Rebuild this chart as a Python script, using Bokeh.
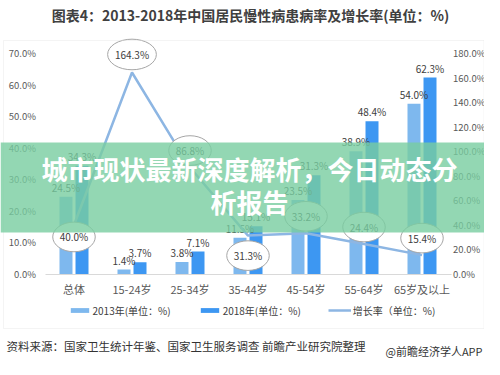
from bokeh.plotting import figure
from bokeh.models import (Range1d, LinearAxis, FixedTicker, PrintfTickFormatter,
                          ColumnDataSource, Label, BoxAnnotation, Legend, LegendItem)
from bokeh.transform import dodge
from bokeh.core.properties import value
from bokeh.embed import file_html
from bokeh.resources import INLINE

# ---------------- data ----------------
categories = ["总体", "15-24岁", "25-34岁", "35-44岁", "45-54岁", "55-64岁", "65岁及以上"]
rate_2013 = [24.5, 1.4, 3.8, 11.5, 23.5, 38.9, 54.0]
rate_2018 = [34.3, 3.7, 7.1, 15.1, 31.3, 48.4, 62.3]
growth = [40.0, 164.3, 86.8, 31.3, 33.2, 24.4, 15.4]
left_ticks = [0, 10, 20, 30, 40, 50, 60, 70]
right_ticks = [0, 20, 40, 60, 80, 100, 120, 140, 160, 180]
legend_labels = ["2013年(单位：%)", "2018年(单位：%)", "增长率（单位：%)"]
title_text = "图表4：2013-2018年中国居民慢性病患病率及增长率(单位：%)"
source_text = "资料来源：国家卫生统计年鉴、国家卫生服务调查 前瞻产业研究院整理"
credit_text = "@前瞻经济学人APP"
banner_lines = ["城市现状最新深度解析，今日动态分", "析报告"]

# ---------------- style ----------------
FONT = "Noto Sans CJK SC"
C13, C18, CLINE = "#7EB8EE", "#3D97F2", "#8DB6E3"
GROWTH_DY = [12, -18, -17, 20, -17, -17, -17]   # label offsets (px)

W, H = 484, 359
PX_PER_CAT = 58.0
FIRST_CAT_X = 73.5          # pixel column of the first category centre
PX_PER_PCT = 3.154          # left axis pixels per percent
ZERO_Y = 273.5              # pixel row of the 0 line
RIGHT_SCALE = 180.0 / 70.0  # right axis units per left axis unit

x_lo = -FIRST_CAT_X / PX_PER_CAT
x_hi = (W - FIRST_CAT_X) / PX_PER_CAT
y_lo = -(H - ZERO_Y) / PX_PER_PCT
y_hi = ZERO_Y / PX_PER_PCT
n = len(categories)
idx = list(range(n))


def sx(fx):
    return fx


def sy(fy):
    return H - fy


src = ColumnDataSource(dict(
    i=idx, r13=rate_2013, r18=rate_2018, g=growth,
    l13=[f"{v:.1f}%" for v in rate_2013],
    l18=[f"{v:.1f}%" for v in rate_2018],
    lg=[f"{v:.1f}%" for v in growth],
    gdy=GROWTH_DY,
))

p = figure(width=W, height=H, x_range=Range1d(x_lo, x_hi), y_range=Range1d(y_lo, y_hi),
           x_axis_type=None, y_axis_type=None,
           output_backend="svg", toolbar_location=None,
           min_border=0, min_border_left=0, min_border_right=0, min_border_top=0,
           min_border_bottom=0)
p.extra_y_ranges = {"right": Range1d(y_lo * RIGHT_SCALE, y_hi * RIGHT_SCALE)}
p.xgrid.visible = False
p.ygrid.visible = False
p.outline_line_color = None
p.background_fill_color = "white"
p.border_fill_color = "white"


def style_axis(ax, size, standoff):
    ax.axis_line_color = None
    ax.major_tick_line_color = None
    ax.minor_tick_line_color = None
    ax.major_tick_out = 0
    ax.major_tick_in = 0
    ax.minor_tick_out = 0
    ax.minor_tick_in = 0
    ax.major_label_text_font = FONT
    ax.major_label_text_font_size = size
    ax.major_label_text_color = "#595959"
    ax.major_label_standoff = standoff


lax = LinearAxis(ticker=FixedTicker(ticks=left_ticks),
                 formatter=PrintfTickFormatter(format="%.1f%%"), fixed_location=-0.5)
style_axis(lax, "9.5px", 9)
p.add_layout(lax, "left")

rax = LinearAxis(y_range_name="right", ticker=FixedTicker(ticks=right_ticks),
                 formatter=PrintfTickFormatter(format="%.1f%%"), fixed_location=n - 0.5)
style_axis(rax, "9.5px", 2)
p.add_layout(rax, "right")

xax = LinearAxis(ticker=FixedTicker(ticks=idx), fixed_location=0,
                 major_label_overrides={i: c for i, c in zip(idx, categories)})
style_axis(xax, "11px", 7)
xax.axis_line_color = "#D9D9D9"
xax.bounds = (-0.5, n - 0.5)
p.add_layout(xax, "below")

# bars
b13 = p.vbar(x=dodge("i", -0.138), top="r13", width=0.224, source=src,
             fill_color=C13, line_color=None)
b18 = p.vbar(x=dodge("i", 0.138), top="r18", width=0.224, source=src,
             fill_color=C18, line_color=None)
for off, fld, lbl in [(-0.138, "r13", "l13"), (0.138, "r18", "l18")]:
    p.text(x=dodge("i", off), y=fld, text=lbl, source=src,
           text_align="center", text_baseline="bottom", y_offset=-2,
           text_font=value(FONT), text_font_size="10px", text_color="#404040")

# growth line
ln = p.line(x="i", y="g", y_range_name="right", source=src, line_color=CLINE, line_width=2.5)
p.text(x="i", y="g", y_range_name="right", text="lg", source=src, y_offset="gdy",
       text_align="center", text_baseline="middle",
       text_font=value(FONT), text_font_size="10px", text_color="#404040",
       background_fill_color="white", border_line_color="#A6A6A6", border_line_width=1,
       outline_shape="ellipse", padding=2)

# legend
legend = Legend(items=[LegendItem(label=legend_labels[0], renderers=[b13]),
                       LegendItem(label=legend_labels[1], renderers=[b18]),
                       LegendItem(label=legend_labels[2], renderers=[ln])],
                orientation="horizontal", location=(sx(67.5), sy(317.5)),
                border_line_color=None, background_fill_alpha=0, padding=0, margin=0,
                spacing=27, glyph_width=23, glyph_height=6, label_standoff=2,
                label_text_font=FONT, label_text_font_size="10px", label_text_color="#404040",
                label_height=12)
p.add_layout(legend)

# chart box
p.add_layout(BoxAnnotation(left=sx(3), right=sx(483.5), top=sy(40), bottom=sy(328),
                           left_units="screen", right_units="screen",
                           top_units="screen", bottom_units="screen",
                           fill_alpha=0, line_color="#D9D9D9", line_width=1))

# title and footer
p.add_layout(Label(x=sx(250), y=sy(14), x_units="screen", y_units="screen", text=title_text,
                   text_align="center", text_baseline="middle", text_font=FONT,
                   text_font_size="14px", text_font_style="bold", text_color="#404040"))
p.add_layout(Label(x=sx(6), y=sy(345), x_units="screen", y_units="screen", text=source_text,
                   text_align="left", text_baseline="middle", text_font=FONT,
                   text_font_size="11.5px", text_color="#333333"))
p.add_layout(Label(x=sx(482), y=sy(350), x_units="screen", y_units="screen", text=credit_text,
                   text_align="right", text_baseline="middle", text_font=FONT,
                   text_font_size="11px", text_color="#333333"))

# green banner overlay
p.add_layout(BoxAnnotation(left=sx(0), right=sx(484), top=sy(142), bottom=sy(232),
                           left_units="screen", right_units="screen",
                           top_units="screen", bottom_units="screen",
                           fill_color=(120, 205, 160), fill_alpha=0.8, line_color=None))
for txt, fy in zip(banner_lines, [167.5, 200.5]):
    p.add_layout(Label(x=sx(249), y=sy(fy), x_units="screen", y_units="screen", text=txt,
                       text_align="center", text_baseline="middle", text_font=FONT,
                       text_font_size="26px", text_font_style="bold", text_color="white"))

open("out.html", "w").write(file_html(p, INLINE))
